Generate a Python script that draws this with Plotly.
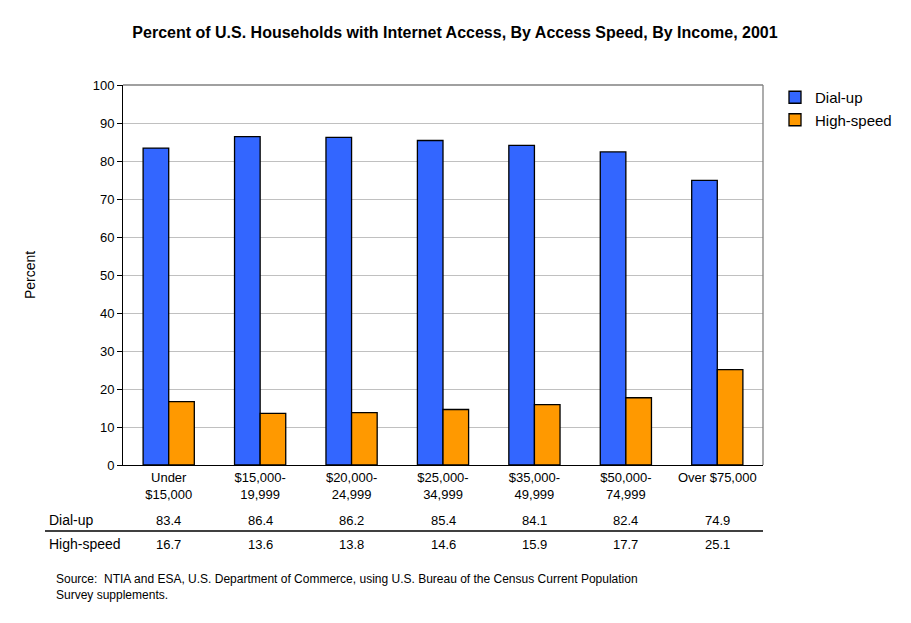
import plotly.graph_objects as go

categories = ["Under<br>$15,000", "$15,000-<br>19,999", "$20,000-<br>24,999",
              "$25,000-<br>34,999", "$35,000-<br>49,999", "$50,000-<br>74,999",
              "Over $75,000"]
dialup = [83.4, 86.4, 86.2, 85.4, 84.1, 82.4, 74.9]
highspeed = [16.7, 13.6, 13.8, 14.6, 15.9, 17.7, 25.1]
series_names = ["Dial-up", "High-speed"]
y_ticks = list(range(0, 101, 10))

W, H = 911, 623
OFF = 8  # page body margin
L, R, T, B = 123, 763, 85, 465  # plot area in page pixels
FONT = "Liberation Sans, Arial, sans-serif"

fig = go.Figure()
fig.add_trace(go.Bar(x=categories, y=dialup, name=series_names[0],
                     marker=dict(color="#3366FF", line=dict(color="black", width=1.3))))
fig.add_trace(go.Bar(x=categories, y=highspeed, name=series_names[1],
                     marker=dict(color="#FF9900", line=dict(color="black", width=1.3))))


def py(ypix):
    return (B - ypix) / (B - T)


def px(xpix):
    return (xpix - L) / (R - L)


fig.update_layout(
    width=W, height=H,
    margin=dict(l=L - OFF, r=W + OFF - R, t=T - OFF, b=H + OFF - B, pad=0, autoexpand=False),
    paper_bgcolor="white", plot_bgcolor="white",
    font=dict(family=FONT, size=13, color="black"),
    barmode="group", bargap=0.44, bargroupgap=0,
    title=dict(text="<b>Percent of U.S. Households with Internet Access, By Access Speed, By Income, 2001</b>",
               x=(455 - OFF) / W, xanchor="center", xref="container",
               y=1 - (32 - OFF) / H, yanchor="middle", yref="container",
               font=dict(size=16, family=FONT, color="black")),
    legend=dict(x=px(775), y=py(81), xanchor="left", yanchor="top",
                font=dict(size=15, family=FONT), bgcolor="rgba(0,0,0,0)",
                itemwidth=30),
    showlegend=True,
)
fig.update_yaxes(range=[0, 100], tickvals=y_ticks, showgrid=True, gridcolor="#C0C0C0",
                 gridwidth=1, showline=True, linecolor="black", linewidth=1,
                 ticks="outside", ticklen=5, tickcolor="black", zeroline=False,
                 tickfont=dict(size=13))
fig.update_xaxes(showline=True, linecolor="black", linewidth=1, ticks="",
                 tickfont=dict(size=13), showgrid=False)

fig.add_annotation(text="Percent", xref="paper", yref="paper", x=px(30), y=py(275),
                   xanchor="center", yanchor="middle", textangle=-90, showarrow=False,
                   font=dict(size=14))

# frame top/right in gray
fig.add_shape(type="line", xref="paper", yref="paper", x0=0, x1=1, y0=1, y1=1,
              line=dict(color="#808080", width=1.3))
fig.add_shape(type="line", xref="paper", yref="paper", x0=1, x1=1, y0=0, y1=1,
              line=dict(color="#808080", width=1.3))

# data table below
rows = [(series_names[0], dialup, 520), (series_names[1], highspeed, 544)]
for name, vals, ypix in rows:
    fig.add_annotation(text=name, xref="paper", yref="paper", x=px(47), y=py(ypix),
                       xanchor="left", yanchor="middle", showarrow=False, font=dict(size=14))
    for c, v in zip(categories, vals):
        fig.add_annotation(text=f"{v:.1f}", xref="x", yref="paper", x=c, y=py(ypix),
                           xanchor="center", yanchor="middle", showarrow=False, font=dict(size=13))
fig.add_shape(type="line", xref="paper", yref="paper", x0=px(45), x1=px(R), y0=py(531), y1=py(531),
              line=dict(color="black", width=1.3))

fig.add_annotation(text="Source:  NTIA and ESA, U.S. Department of Commerce, using U.S. Bureau of the Census Current Population<br>Survey supplements.",
                   xref="paper", yref="paper", x=px(54), y=py(570), xanchor="left", yanchor="top",
                   align="left", showarrow=False, font=dict(size=12))

fig.write_html("out.html")
